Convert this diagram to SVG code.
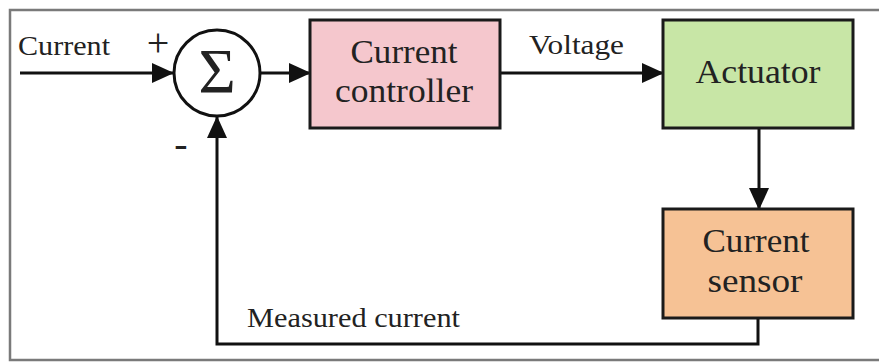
<svg xmlns="http://www.w3.org/2000/svg" width="879" height="362" viewBox="0 0 879 362">
<defs>
<style>
.t{font-family:"Liberation Serif","Times New Roman",serif;fill:#222;}
.lbl{font-size:28px;}
.bx{font-size:34px;text-anchor:middle;}
.box{stroke:#1a1a1a;stroke-width:3;}
.ln{stroke:#111;stroke-width:3;fill:none;}
</style>
<marker id="ahb" viewBox="0 0 22 20" markerWidth="22" markerHeight="20" refX="21" refY="10" orient="auto" markerUnits="userSpaceOnUse">
<path d="M0,0 L22,10 L0,20 Z" fill="#111"/>
</marker>
</defs>
<rect width="879" height="362" fill="#ffffff"/>
<rect x="10" y="10" width="890" height="350" fill="none" stroke="#7a7a7a" stroke-width="2.5"/>
<g id="connectors">
<line class="ln" x1="20" y1="73" x2="173" y2="73" marker-end="url(#ahb)"/>
<line class="ln" x1="261" y1="73" x2="310" y2="73" marker-end="url(#ahb)"/>
<line class="ln" x1="500" y1="73" x2="663" y2="73" marker-end="url(#ahb)"/>
<line class="ln" x1="759" y1="128" x2="759" y2="209" marker-end="url(#ahb)"/>
<polyline class="ln" points="758,318 758,344 217,344 217,117" marker-end="url(#ahb)"/>
</g>
<g id="input-label">
<text class="t lbl" x="18" y="55" textLength="92" lengthAdjust="spacingAndGlyphs">Current</text>
<text class="t" x="158" y="56" font-size="40" text-anchor="middle">+</text>
<text class="t" x="181" y="157" font-size="40" text-anchor="middle">-</text>
</g>
<g id="sum">
<circle cx="217" cy="73" r="43" fill="#fff" stroke="#111" stroke-width="3"/>
<text class="t" x="217" y="93" font-size="64" text-anchor="middle">Σ</text>
</g>
<g id="controller">
<rect class="box" x="310" y="20" width="190" height="108" fill="#f5c7cd"/>
<text class="t bx" x="404" y="63" fill="#3a2020" textLength="107" lengthAdjust="spacingAndGlyphs">Current</text>
<text class="t bx" x="404" y="102" fill="#3a2020" textLength="138" lengthAdjust="spacingAndGlyphs">controller</text>
</g>
<g id="voltage-label">
<text class="t lbl" x="529" y="54" textLength="95" lengthAdjust="spacingAndGlyphs">Voltage</text>
</g>
<g id="actuator">
<rect class="box" x="663" y="20" width="190" height="108" fill="#c8e6a6"/>
<text class="t bx" x="758" y="83" fill="#1f3015" textLength="125" lengthAdjust="spacingAndGlyphs">Actuator</text>
</g>
<g id="sensor">
<rect class="box" x="663" y="209" width="190" height="109" fill="#f6c295"/>
<text class="t bx" x="756" y="252" fill="#3a2518" textLength="107" lengthAdjust="spacingAndGlyphs">Current</text>
<text class="t bx" x="755" y="292" fill="#3a2518" textLength="95" lengthAdjust="spacingAndGlyphs">sensor</text>
</g>
<g id="feedback-label">
<text class="t lbl" x="247" y="327" textLength="213" lengthAdjust="spacingAndGlyphs">Measured current</text>
</g>
</svg>
